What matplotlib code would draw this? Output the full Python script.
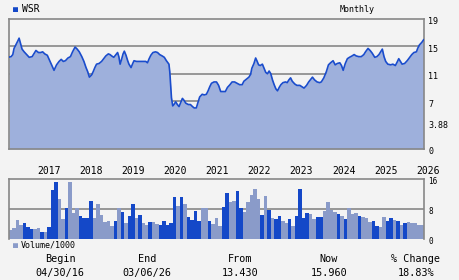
import numpy as np
import matplotlib
matplotlib.use("Agg")
import matplotlib.pyplot as plt
from matplotlib.transforms import ScaledTranslation

# price curve (decimal year, close)
price_t = [2016.33, 2016.38, 2016.42, 2016.45, 2016.50, 2016.54, 2016.57, 2016.61, 2016.64, 2016.69,
           2016.75, 2016.81, 2016.88, 2016.91, 2016.97, 2017.03, 2017.08, 2017.13, 2017.18, 2017.24,
           2017.29, 2017.34, 2017.40, 2017.46, 2017.52, 2017.57, 2017.62, 2017.67, 2017.73, 2017.79,
           2017.84, 2017.90, 2017.95, 2018.00, 2018.06, 2018.11, 2018.16, 2018.20, 2018.24, 2018.29,
           2018.33, 2018.37, 2018.41, 2018.47, 2018.53, 2018.58, 2018.63, 2018.69, 2018.73, 2018.77,
           2018.82, 2018.87, 2018.91, 2018.94, 2018.97, 2019.00, 2019.04, 2019.07, 2019.11, 2019.15,
           2019.18, 2019.23, 2019.27, 2019.30, 2019.36, 2019.46, 2019.58, 2019.62, 2019.66, 2019.70,
           2019.75, 2019.81, 2019.86, 2019.91, 2019.97, 2020.02, 2020.07, 2020.13, 2020.15, 2020.17,
           2020.19, 2020.22, 2020.25, 2020.29, 2020.33, 2020.37, 2020.41, 2020.45, 2020.49, 2020.53,
           2020.59, 2020.64, 2020.69, 2020.73, 2020.78, 2020.82, 2020.86, 2020.92, 2020.97, 2021.02,
           2021.06, 2021.10, 2021.14, 2021.20, 2021.26, 2021.31, 2021.36, 2021.42, 2021.47, 2021.52,
           2021.58, 2021.63, 2021.69, 2021.75, 2021.81, 2021.87, 2021.91, 2021.97, 2022.03, 2022.07,
           2022.10, 2022.15, 2022.19, 2022.22, 2022.26, 2022.30, 2022.35, 2022.39, 2022.43, 2022.47,
           2022.51, 2022.55, 2022.59, 2022.63, 2022.67, 2022.71, 2022.75, 2022.79, 2022.84, 2022.90,
           2022.94, 2022.98, 2023.02, 2023.06, 2023.12, 2023.17, 2023.24, 2023.29, 2023.34, 2023.40,
           2023.45, 2023.50, 2023.54, 2023.59, 2023.65, 2023.71, 2023.75, 2023.81, 2023.87, 2023.92,
           2023.97, 2024.03, 2024.08, 2024.13, 2024.19, 2024.23, 2024.27, 2024.32, 2024.37, 2024.42,
           2024.48, 2024.53, 2024.58, 2024.64, 2024.70, 2024.76, 2024.80, 2024.86, 2024.91, 2024.96,
           2025.02, 2025.07, 2025.12, 2025.16, 2025.20, 2025.24, 2025.28, 2025.33, 2025.40, 2025.45,
           2025.51, 2025.56, 2025.59, 2025.63, 2025.67, 2025.73, 2025.79, 2025.85, 2025.90, 2025.95,
           2026.01, 2026.04, 2026.08, 2026.14, 2026.18]
price = [13.43, 13.5, 13.8, 14.7, 15.3, 15.8, 16.2, 15.3, 14.6, 14.2,
         13.8, 13.4, 13.5, 13.8, 14.4, 14.1, 14.1, 14.2, 13.9, 13.7,
         13.0, 12.3, 11.5, 12.3, 12.8, 13.1, 12.8, 12.9, 13.3, 13.5,
         14.2, 14.9, 14.6, 14.2, 13.5, 12.8, 11.9, 11.3, 10.5, 10.8,
         11.3, 11.9, 12.4, 12.5, 12.8, 13.2, 13.6, 13.9, 13.8, 13.6,
         13.4, 13.8, 14.1, 13.5, 12.4, 13.0, 13.9, 14.3, 13.7, 12.9,
         12.4, 11.9, 12.5, 12.9, 12.8, 12.8, 12.8, 12.6, 13.2, 13.7,
         14.1, 14.2, 14.1, 13.8, 13.6, 13.4, 12.9, 12.4, 11.3, 9.4,
         7.5, 6.3, 6.5, 6.9, 6.5, 6.2, 6.8, 7.4, 7.1, 6.7,
         6.5, 6.5, 6.2, 6.0, 6.0, 6.8, 7.6, 8.0, 7.9, 8.0,
         8.5, 9.1, 9.6, 9.8, 9.8, 9.3, 8.4, 8.4, 8.4, 9.0,
         9.4, 9.8, 9.8, 9.6, 9.4, 9.4, 9.9, 10.2, 10.5, 10.9,
         11.8, 12.5, 13.3, 12.9, 12.3, 12.2, 12.4, 11.8, 11.2, 11.0,
         11.4, 11.0, 10.1, 9.4, 8.8, 8.5, 9.0, 9.4, 9.7, 9.8,
         9.7, 10.1, 10.4, 9.9, 9.5, 9.3, 9.3, 9.1, 8.9, 9.3,
         9.8, 10.2, 10.5, 10.1, 9.8, 9.7, 9.8, 10.4, 11.3, 12.3,
         12.6, 12.9, 12.3, 12.5, 12.6, 12.2, 11.5, 12.5, 13.2, 13.4,
         13.6, 13.8, 13.6, 13.5, 13.5, 13.8, 14.2, 14.7, 14.4, 14.0,
         13.4, 13.5, 13.8, 14.2, 14.6, 13.5, 12.8, 12.4, 12.3, 12.4,
         12.2, 12.8, 13.2, 12.8, 12.4, 12.5, 12.9, 13.4, 13.8, 14.1,
         14.2, 14.7, 15.2, 15.6, 15.96]

# monthly volume (thousands), May 2016 .. Mar 2026; 1 = up month (dark blue)
volume = [2.4, 3.0, 5.1, 3.7, 4.4, 3.3, 2.7, 2.7, 3.0, 2.0,
          2.0, 3.3, 13.1, 15.3, 10.7, 5.3, 8.3, 15.3, 6.9, 8.2,
          6.1, 5.5, 5.7, 10.2, 5.7, 9.3, 6.4, 4.6, 4.8, 3.6,
          4.8, 8.2, 7.2, 4.4, 6.1, 9.3, 5.6, 6.4, 4.4, 3.7,
          4.5, 4.5, 4.0, 3.7, 4.8, 3.7, 4.3, 11.2, 8.8, 11.2,
          9.3, 5.9, 5.1, 7.5, 4.8, 8.2, 8.2, 4.8, 4.0, 5.6,
          3.5, 8.5, 12.3, 9.9, 10.1, 12.8, 8.3, 7.2, 9.9, 11.7,
          13.3, 10.7, 6.4, 11.5, 7.7, 5.6, 5.3, 6.1, 4.8, 4.3,
          5.3, 3.5, 6.1, 13.3, 5.6, 6.9, 6.7, 5.3, 5.9, 5.9,
          7.5, 9.9, 7.7, 7.2, 6.7, 6.1, 5.3, 8.2, 6.7, 6.9,
          6.1, 5.9, 5.6, 4.5, 4.8, 3.5, 3.2, 5.9, 4.8, 5.6,
          5.1, 4.8, 3.7, 4.3, 4.5, 4.3, 4.3, 3.7, 3.7]
up = [0, 0, 0, 0, 1, 1, 1, 0, 0, 1,
      0, 1, 1, 1, 0, 0, 1, 0, 0, 0,
      1, 1, 1, 1, 0, 0, 0, 0, 0, 0,
      1, 0, 1, 0, 1, 1, 0, 1, 0, 0,
      1, 0, 0, 1, 1, 1, 1, 1, 0, 1,
      0, 1, 1, 1, 1, 0, 0, 1, 0, 0,
      0, 1, 1, 0, 0, 1, 1, 0, 0, 0,
      0, 0, 1, 0, 1, 0, 1, 1, 0, 0,
      1, 0, 1, 1, 1, 1, 0, 0, 1, 1,
      0, 0, 0, 0, 1, 0, 1, 0, 0, 0,
      1, 0, 0, 0, 1, 1, 0, 0, 1, 1,
      0, 1, 0, 1, 0, 0, 0, 0, 0]

years = list(range(2017, 2027))
price_ticks = [0, 3.88, 7, 11, 15, 19]
price_labels = ["0", "3.88", "7", "11", "15", "19"]
vol_ticks = [0, 8, 16]
stat_names = ["Begin", "End", "From", "Now", "% Change"]
stat_values = ["04/30/16", "03/06/26", "13.430", "15.960", "18.83%"]

BG = "#f3f3f3"
GRID = "#888888"
LINE = "#1a4ccc"
FILL = "#9eb0dc"
UP = "#1448c8"
DOWN = "#8a9bc9"
plt.rcParams["font.family"] = ["DejaVu Sans Mono"]

W, H = 460, 280
fig = plt.figure(figsize=(W / 100, H / 100), dpi=100, facecolor=BG)
down2 = ScaledTranslation(0, -2 / 100, fig.dpi_scale_trans)

# price panel
ax = fig.add_axes([9 / W, (H - 149) / H, 415 / W, 130 / H], facecolor=BG)
for y in [7, 11, 15]:
    ax.axhline(y, color=GRID, lw=1.2, zorder=1)
ax.fill_between(price_t, price, 0, color=FILL, lw=0, zorder=2)
ax.plot(price_t, price, color=LINE, lw=1.2, zorder=3)
ax.set_xlim(2016.33, 2026.19)
ax.set_ylim(0, 19)
ax.yaxis.tick_right()
ax.set_yticks(price_ticks)
ax.set_yticklabels(price_labels)
ax.set_xticks(years)
ax.set_xticklabels([str(y) for y in years], ha="left")
ax.tick_params(axis="y", length=0, pad=3, labelsize=6)
ax.tick_params(axis="x", length=0, pad=12, labelsize=7)
for lab in ax.get_yticklabels():
    lab.set_transform(lab.get_transform() + down2)
for s in ax.spines.values():
    s.set_color(GRID)
    s.set_linewidth(1.2)

fig.text(15 / W, 1 - 9 / H, "\u25a0", color=UP, fontsize=6, ha="center", va="center")
fig.text(22 / W, 1 - 9 / H, "WSR", fontsize=7, va="center")
fig.text(357 / W, 1 - 9 / H, "Monthly", fontsize=6, ha="center", va="center")

# volume panel
axv = fig.add_axes([9 / W, (H - 239) / H, 415 / W, 60 / H], facecolor=BG)
axv.axhline(8, color=GRID, lw=1.2, zorder=1)
idx = np.arange(len(volume))
colors = [UP if u else DOWN for u in up]
axv.bar(idx, volume, width=1.0, align="edge", color=colors, lw=0, zorder=2)
axv.set_xlim(0, len(volume))
axv.set_ylim(0, 16)
axv.yaxis.tick_right()
axv.set_yticks(vol_ticks)
axv.set_xticks([])
axv.tick_params(axis="y", length=0, pad=3, labelsize=5.5)
for lab in axv.get_yticklabels():
    lab.set_transform(lab.get_transform() + down2)
for s in axv.spines.values():
    s.set_color(GRID)
    s.set_linewidth(1.2)
axv.spines["bottom"].set_visible(False)

fig.text(15 / W, 1 - 245 / H, "\u25a0", color=DOWN, fontsize=6, ha="center", va="center")
fig.text(21 / W, 1 - 245 / H, "Volume/1000", fontsize=6, va="center")

# summary row
cols = [60, 147, 240, 329, 416]
for cx, name, val in zip(cols, stat_names, stat_values):
    fig.text(cx / W, 1 - 259 / H, name, fontsize=7.3, ha="center", va="center")
    fig.text(cx / W, 1 - 273 / H, val, fontsize=7.3, ha="center", va="center")

fig.savefig("out.png", dpi=100, facecolor=BG)
